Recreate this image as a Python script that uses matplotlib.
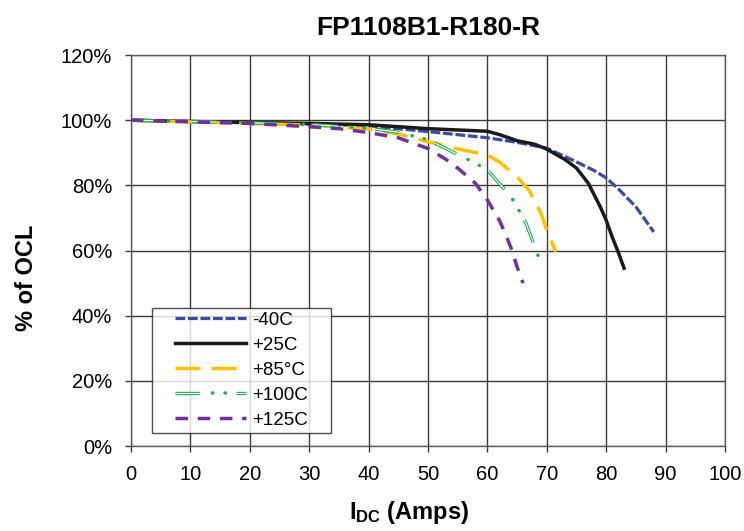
import matplotlib
matplotlib.use("Agg")
import matplotlib.pyplot as plt
from matplotlib.ticker import MultipleLocator, FuncFormatter
from matplotlib.lines import Line2D
from matplotlib.legend_handler import HandlerTuple, HandlerLine2D

plt.rcParams['font.family'] = ['Liberation Sans', 'DejaVu Sans']
plt.rcParams['mathtext.fontset'] = 'custom'
plt.rcParams['mathtext.rm'] = 'Liberation Sans'
plt.rcParams['mathtext.bf'] = 'Liberation Sans:bold'
plt.rcParams['lines.scale_dashes'] = False

title = "FP1108B1-R180-R"

# -40C
x_m40 = [0, 10, 20, 30, 40, 50, 60, 65, 70, 75, 78, 80, 82, 85, 88]
y_m40 = [100, 99.6, 99.2, 98.8, 98.3, 96.5, 94.6, 93.2, 91.4, 87.2, 84.5, 82.3, 79.0, 73.4, 65.7]

# +25C
x_25 = [0, 10, 20, 30, 40, 50, 60, 62, 65, 68, 70, 73, 75, 77, 79, 80, 81, 82, 83]
y_25 = [100, 99.6, 99.3, 99.0, 98.6, 97.4, 96.6, 95.6, 93.7, 92.6, 91.1, 88.0, 85.3, 80.6, 73.4, 69.3, 64.2, 59.6, 54.6]

# +85C
x_85 = [0, 10, 20, 30, 40, 45, 50, 55, 60, 62, 65, 67, 69, 70, 71.5]
y_85 = [100, 99.5, 99.0, 98.5, 97.3, 95.8, 93.4, 91.2, 89.3, 87.2, 82.6, 78.5, 71.5, 66.3, 59.6]

# +100C
x_100 = [0, 10, 20, 30, 40, 45, 50, 55, 58, 60, 62, 64, 65, 66.5, 68, 69]
y_100 = [100, 99.6, 99.2, 98.7, 97.5, 96.3, 94.0, 89.5, 86.8, 84.7, 80.6, 76.5, 73.3, 68.4, 61.0, 56.2]

# +125C
x_125 = [0, 10, 20, 30, 35, 40, 45, 50, 53, 55, 58, 60, 62, 63, 64, 65, 66]
y_125 = [100, 99.5, 99.0, 98.0, 97.4, 96.2, 94.6, 91.3, 88.0, 85.3, 80.6, 75.5, 69.3, 65.3, 60.7, 55.0, 50.0]

fig = plt.figure(figsize=(7.44, 5.31), dpi=100)
ax = fig.add_axes([0.176, 0.160, 0.7985, 0.7364])

blue, black, yellow, green, purple = '#3C4BA0', '#1A1A1A', '#FFC000', '#1DB04C', '#7030A0'

ax.plot(x_m40, y_m40, color=blue, lw=2.3, linestyle=(0, (7, 2)), label='-40C', zorder=3)
ax.plot(x_25, y_25, color=black, lw=2.5, label='+25C', zorder=3)
ax.plot(x_85, y_85, color=yellow, lw=2.5, linestyle=(0, (18, 8)), label='+85\u00b0C', zorder=3)

# +100C: hollow dashes plus two solid dots
pat = (17.5, 26.5)
dots = (17, (0.1, 9, 0.1, 34.8))
ax.plot(x_100, y_100, color=green, lw=2.4, linestyle=(0, pat), zorder=3)
ax.plot(x_100, y_100, color='white', lw=0.8, linestyle=(0, pat), zorder=3)
ax.plot(x_100, y_100, color=green, lw=2.6, linestyle=dots, dash_capstyle='round', zorder=3)

ax.plot(x_125, y_125, color=purple, lw=2.5, linestyle=(0, (9, 7)), label='+125C', zorder=3)

# legend entry for the green hollow line
g_outer = Line2D([], [], color=green, lw=2.4, linestyle=(0, pat))
g_inner = Line2D([], [], color='white', lw=0.8, linestyle=(0, pat))
g_dots = Line2D([], [], color=green, lw=2.6, linestyle=dots, dash_capstyle='round')

handles, labels = ax.get_legend_handles_labels()
handles.insert(3, (g_outer, g_inner, g_dots))
labels.insert(3, '+100C')
leg = ax.legend(handles, labels, loc='lower left', bbox_to_anchor=(0.0359, 0.034, 0.3003, 0.33),
                mode='expand', fontsize=13.5, handlelength=4.8, handletextpad=0.32,
                labelspacing=0.42, borderpad=0.2, frameon=True, fancybox=False, borderaxespad=0,
                handler_map={tuple: HandlerTuple(ndivide=1, pad=0, xpad=1.03),
                             Line2D: HandlerLine2D(xpad=1.03)})
leg.get_frame().set_edgecolor('#222222')
leg.get_frame().set_linewidth(1.0)
leg.set_zorder(5)

ax.set_xlim(0, 100)
ax.set_ylim(0, 120)
ax.xaxis.set_major_locator(MultipleLocator(10))
ax.yaxis.set_major_locator(MultipleLocator(20))
ax.yaxis.set_major_formatter(FuncFormatter(lambda v, p: f"{v:.0f}%"))
ax.grid(True, color='#3A3A3A', lw=1.0)
ax.set_axisbelow(True)
for s in ax.spines.values():
    s.set_color('#5A5A5A')
    s.set_linewidth(1.0)
ax.tick_params(direction='out', length=4.5, width=1, color='#3A3A3A', labelsize=14.5, pad=9)

ax.set_title(title, fontsize=19, fontweight='bold', pad=14.5)
ax.set_xlabel(r'$\mathbf{I_{DC}}$ (Amps)', fontsize=17, fontweight='bold')
ax.set_ylabel('% of OCL', fontsize=17, fontweight='bold')
ax.xaxis.set_label_coords(0.469, -0.1355)
ax.yaxis.set_label_coords(-0.1566, 0.430)

fig.savefig('out.png', dpi=100)
